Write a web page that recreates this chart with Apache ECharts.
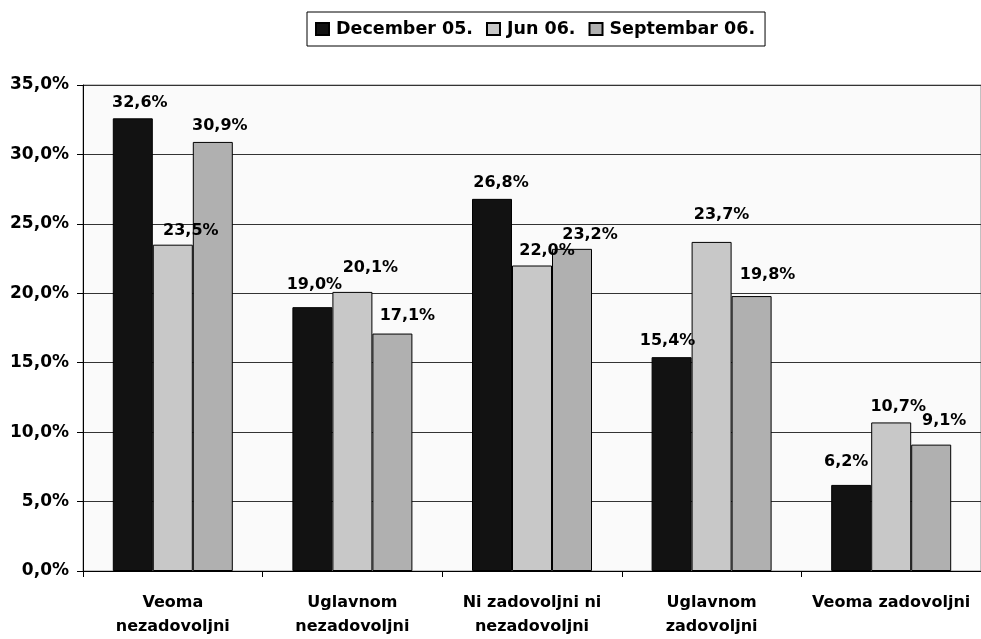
<!DOCTYPE html>
<html>
<head>
<meta charset="utf-8">
<script src="https://cdn.jsdelivr.net/npm/echarts@6/dist/echarts.min.js"></script>
<style>
html,body{margin:0;padding:0;background:#fff;}
#chart{width:981px;height:639px;}
</style>
</head>
<body>
<div id="chart"></div>
<script>
const categories = ['Veoma\nnezadovoljni', 'Uglavnom\nnezadovoljni', 'Ni zadovoljni ni\nnezadovoljni', 'Uglavnom\nzadovoljni', 'Veoma zadovoljni'];
const seriesNames = ['December 05.', 'Jun 06.', 'Septembar 06.'];
const dec05 = [32.6, 19.0, 26.8, 15.4, 6.2];
const jun06 = [23.5, 20.1, 22.0, 23.7, 10.7];
const sep06 = [30.9, 17.1, 23.2, 19.8, 9.1];
const yTicks = [0, 5, 10, 15, 20, 25, 30, 35];

// styling: label nudges as placed in the original chart ([dx, dy] in px)
const labelNudge = [
  [[7, -1], [2, -8], [9, -2], [-4, -2], [-5, -9]],
  [[18, 0], [18, -10], [15, -1], [10, -13], [7, -2]],
  [[7, -2], [15, -4], [18, 0], [16, -7], [13, -10]]
];

const colors = ['#121212', '#c8c8c8', '#b0b0b0'];
const FONT = 'DejaVu Sans';
const fmt = v => v.toFixed(1).replace('.', ',') + '%';

const chart = echarts.init(document.getElementById('chart'), null, {renderer: 'canvas'});
const seriesData = [dec05, jun06, sep06];
const option = {
  animation: false,
  backgroundColor: '#ffffff',
  textStyle: {fontFamily: FONT},
  legend: {
    data: seriesNames,
    left: 307,
    top: 12,
    padding: [8, 10, 8, 8],
    itemWidth: 13,
    itemHeight: 12,
    itemGap: 13,
    icon: 'rect',
    borderColor: '#000',
    borderWidth: 1,
    backgroundColor: '#fff',
    textStyle: {fontFamily: FONT, fontWeight: 'bold', fontSize: 17.5, color: '#000', padding: [0, 0, 0, 2]}
  },
  grid: {
    left: 83, right: -2, top: 85, bottom: 67,
    show: true,
    backgroundColor: '#fafafa',
    borderColor: '#888',
    borderWidth: 1,
    containLabel: false
  },
  xAxis: {
    type: 'category',
    data: categories,
    axisLine: {lineStyle: {color: '#000', width: 1}},
    axisTick: {show: true, length: 6, lineStyle: {color: '#000'}},
    axisLabel: {
      fontFamily: FONT, fontWeight: 'bold', fontSize: 16, color: '#000',
      lineHeight: 24, margin: 20, interval: 0
    },
    splitLine: {show: false}
  },
  yAxis: {
    type: 'value',
    min: yTicks[0],
    max: yTicks[yTicks.length - 1],
    interval: 5,
    axisLine: {show: true, lineStyle: {color: '#000', width: 1}},
    axisTick: {show: true, length: 6, lineStyle: {color: '#000'}},
    axisLabel: {
      fontFamily: FONT, fontWeight: 'bold', fontSize: 17, color: '#000', margin: 14,
      formatter: v => fmt(v)
    },
    splitLine: {show: true, lineStyle: {color: '#333', width: 1}}
  },
  series: seriesNames.map((name, i) => ({
    name: name,
    type: 'bar',
    data: seriesData[i].map((v, j) => ({value: v, label: {offset: labelNudge[i][j]}})),
    barWidth: 40,
    barGap: '0%',
    itemStyle: {color: colors[i], borderColor: '#000', borderWidth: 1},
    label: {
      show: true,
      position: 'top',
      distance: 6,
      fontFamily: FONT, fontWeight: 'bold', fontSize: 16, color: '#000',
      formatter: p => fmt(p.value)
    }
  }))
};
chart.setOption(option);
</script>
</body>
</html>
